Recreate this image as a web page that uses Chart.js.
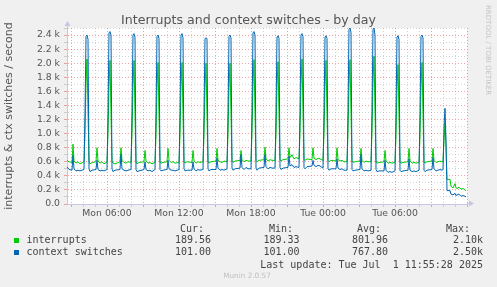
<!DOCTYPE html>
<html>
<head>
<meta charset="utf-8">
<script src="https://cdn.jsdelivr.net/npm/chart.js@4.4.1/dist/chart.umd.min.js"></script>
<style>
html,body{margin:0;padding:0;background:#f0f0f0;}
#wrap{position:relative;width:497px;height:287px;overflow:hidden;background:#f0f0f0;}
#c{position:absolute;left:0;top:0;}
.t{position:absolute;white-space:pre;line-height:1;}
.sans{font-family:"DejaVu Sans",sans-serif;}
.mono{font-family:"DejaVu Sans Mono",monospace;font-size:10px;color:#444;}
.r{text-align:right;}
.sq{position:absolute;width:5px;height:5px;}
</style>
</head>
<body>
<div id="wrap">
<canvas id="c" width="497" height="287"></canvas>
<div class="t sans" id="title" style="left:0;width:497px;text-align:center;top:13.6px;font-size:12.6px;color:#555;"></div>
<div class="t sans" id="rrd" style="left:483.5px;top:5px;font-size:7px;color:#c4c4c4;writing-mode:vertical-rl;"></div>
<div id="legend"></div>
<div class="t sans" id="munin" style="left:0;width:494px;text-align:center;top:272px;font-size:7.3px;color:#c0c0c0;"></div>
</div>
<script>
// ---- text ----
const chartTitle = 'Interrupts and context switches - by day';
const yAxisTitle = 'interrupts & ctx switches / second';
const sideText = 'RRDTOOL / TOBI OETIKER';
const footerText = 'Munin 2.0.57';
const lastUpdate = 'Last update: Tue Jul  1 11:55:28 2025';

// ---- x axis: sample index, 5-minute steps starting Mon 02:40 ----
const labelTicks = [40, 112, 184, 256, 328];
const timeLabels = ['Mon 06:00', 'Mon 12:00', 'Mon 18:00', 'Tue 00:00', 'Tue 06:00'];

// ---- legend ----
const seriesNames = ['interrupts', 'context switches'];
const seriesColors = ['#00cc00', '#0066b3'];
const statHeaders = ['Cur:', 'Min:', 'Avg:', 'Max:'];
const curValues = ['189.56', '101.00'];
const minValues = ['189.33', '101.00'];
const avgValues = ['801.96', '767.80'];
const maxValues = ['2.10k', '2.50k'];

// ---- data (sample index, values per second) ----
const sampleIdx = [
  0, 2, 5, 6, 7, 9, 11, 13, 17, 18, 19, 20, 21, 22,
  23, 25, 29, 30, 31, 33, 35, 37, 40, 41, 42, 43, 44, 45,
  46, 48, 53, 54, 55, 57, 59, 61, 64, 65, 66, 67, 68, 69,
  70, 72, 77, 78, 79, 81, 83, 85, 88, 89, 90, 91, 92, 93,
  94, 96, 100, 101, 102, 104, 106, 108, 112, 113, 114, 115, 116, 117,
  118, 120, 125, 126, 127, 129, 131, 133, 136, 137, 138, 139, 140, 141,
  142, 144, 149, 150, 151, 153, 155, 157, 160, 161, 162, 163, 164, 165,
  166, 168, 173, 174, 175, 177, 179, 181, 184, 185, 186, 187, 188, 189,
  190, 192, 197, 198, 199, 201, 203, 205, 208, 209, 210, 211, 212, 213,
  214, 216, 221, 222, 223, 225, 227, 229, 232, 233, 234, 235, 236, 237,
  238, 240, 245, 246, 247, 249, 251, 253, 256, 257, 258, 259, 260, 261,
  262, 264, 269, 270, 271, 273, 275, 277, 280, 281, 282, 283, 284, 285,
  286, 288, 293, 294, 295, 297, 299, 301, 304, 305, 306, 307, 308, 309,
  310, 312, 317, 318, 319, 321, 323, 325, 328, 329, 330, 331, 332, 333,
  334, 336, 341, 342, 343, 345, 347, 349, 352, 353, 354, 355, 356, 357,
  358, 360, 365, 366, 367, 369, 371, 373, 375, 376, 377, 378, 379, 380,
  381, 383, 384, 386, 388, 389, 390, 392, 394, 396, 398, 399
];
const interrupts = [
  620, 600, 590, 850, 610, 580, 600, 570, 600, 1000, 1700, 2060, 1300, 610,
  570, 590, 600, 800, 610, 580, 600, 570, 600, 1000, 1680, 2040, 1280, 610,
  580, 570, 600, 800, 620, 590, 580, 600, 590, 1000, 1680, 2040, 1280, 600,
  570, 590, 600, 760, 610, 580, 590, 570, 590, 980, 1650, 2010, 1260, 600,
  580, 590, 600, 790, 620, 590, 600, 580, 590, 980, 1660, 2010, 1270, 600,
  580, 600, 590, 760, 610, 580, 600, 590, 600, 980, 1650, 2000, 1260, 610,
  580, 600, 610, 790, 620, 600, 590, 610, 600, 980, 1650, 2000, 1260, 610,
  590, 610, 620, 760, 630, 600, 620, 610, 610, 1000, 1690, 2050, 1290, 620,
  600, 620, 630, 810, 640, 610, 630, 620, 620, 990, 1670, 2020, 1280, 630,
  610, 630, 640, 800, 660, 700, 640, 660, 640, 1000, 1700, 2060, 1300, 630,
  620, 640, 630, 800, 650, 630, 650, 640, 620, 1000, 1680, 2040, 1280, 620,
  600, 620, 610, 800, 630, 610, 620, 600, 600, 1000, 1690, 2050, 1290, 610,
  590, 600, 610, 790, 620, 590, 610, 600, 600, 1020, 1730, 2100, 1320, 610,
  580, 590, 600, 760, 610, 580, 590, 580, 590, 970, 1630, 1980, 1250, 600,
  580, 590, 600, 790, 610, 580, 590, 580, 590, 980, 1660, 2010, 1270, 600,
  580, 600, 610, 790, 620, 590, 600, 610, 600, 600, 900, 1150, 800, 350,
  350, 350, 250, 230, 290, 230, 220, 240, 210, 220, 200, 190
];
const contextSwitches = [
  530, 490, 480, 690, 500, 470, 480, 470, 490, 1300, 2380, 2400, 2340, 500,
  460, 480, 490, 620, 490, 470, 480, 470, 490, 1300, 2430, 2450, 2400, 500,
  460, 480, 490, 700, 500, 480, 470, 480, 490, 1300, 2400, 2420, 2370, 490,
  460, 470, 490, 600, 490, 470, 480, 460, 490, 1280, 2380, 2400, 2350, 490,
  470, 480, 490, 620, 500, 480, 480, 470, 490, 1300, 2400, 2420, 2360, 500,
  470, 480, 480, 600, 500, 470, 490, 480, 490, 1260, 2350, 2360, 2350, 500,
  470, 490, 490, 650, 510, 480, 490, 480, 500, 1280, 2380, 2400, 2360, 510,
  480, 500, 510, 700, 520, 490, 520, 500, 500, 1300, 2430, 2450, 2400, 510,
  480, 510, 520, 700, 530, 500, 520, 510, 510, 1280, 2370, 2390, 2350, 520,
  490, 510, 520, 680, 540, 560, 520, 530, 520, 1300, 2400, 2420, 2380, 520,
  500, 530, 540, 620, 550, 530, 550, 540, 510, 1280, 2370, 2390, 2350, 500,
  480, 500, 500, 640, 510, 490, 500, 480, 480, 1320, 2480, 2500, 2440, 490,
  470, 480, 490, 700, 500, 470, 480, 470, 480, 1320, 2480, 2500, 2400, 490,
  460, 470, 470, 620, 480, 450, 460, 450, 470, 1280, 2370, 2390, 2340, 480,
  460, 470, 480, 640, 480, 460, 470, 460, 480, 1280, 2380, 2400, 2360, 480,
  460, 480, 490, 660, 500, 470, 480, 490, 480, 490, 1100, 1360, 900, 190,
  190, 190, 140, 130, 150, 120, 130, 140, 110, 120, 110, 100
];

// ---- overlay text ----
document.getElementById('title').textContent = chartTitle;
document.getElementById('rrd').textContent = sideText;
document.getElementById('munin').textContent = footerText;

(function buildLegend(){
  const lg = document.getElementById('legend');
  const W = 497;
  const add = (html) => { lg.insertAdjacentHTML('beforeend', html); };
  const headerRight = [204, 293, 381, 470];
  const valueRight = [211, 299.5, 388, 483];
  const rowTop = [235, 247];
  const headTop = 224.3;
  statHeaders.forEach((h, i) => {
    add(`<div class="t mono r" style="right:${W - headerRight[i]}px;top:${headTop}px;">${h}</div>`);
  });
  const cols = [curValues, minValues, avgValues, maxValues];
  seriesNames.forEach((n, r) => {
    add(`<div class="sq" style="left:14px;top:${rowTop[r] + 3}px;background:${seriesColors[r]};"></div>`);
    add(`<div class="t mono" style="left:26.5px;top:${rowTop[r]}px;">${n}</div>`);
    cols.forEach((col, i) => {
      add(`<div class="t mono r" style="right:${W - valueRight[i]}px;top:${rowTop[r]}px;">${col[r]}</div>`);
    });
  });
  add(`<div class="t mono r" style="right:${W - 483}px;top:260.1px;">${lastUpdate}</div>`);
})();

// ---- chart ----
const hourTicks = Array.from({length: 34}, (_, k) => 4 + 12 * k);
const MAJOR = 'rgba(232,90,90,0.55)';
const MINOR = 'rgba(150,150,150,0.4)';
const AXIS = '#c6c6e6';

const plotBg = {
  id: 'plotBg',
  beforeDraw(chart) {
    const {ctx, chartArea: a} = chart;
    ctx.save();
    ctx.fillStyle = '#ffffff';
    ctx.fillRect(a.left, a.top, a.right - a.left, a.bottom - a.top);
    ctx.restore();
  }
};
const arrows = {
  id: 'arrows',
  afterDraw(chart) {
    const {ctx, chartArea: a} = chart;
    ctx.save();
    ctx.strokeStyle = AXIS;
    ctx.fillStyle = AXIS;
    ctx.lineWidth = 1;
    const x = Math.round(a.left) + 0.5;
    ctx.beginPath(); ctx.moveTo(x, a.top); ctx.lineTo(x, a.top - 4); ctx.stroke();
    ctx.beginPath(); ctx.moveTo(x - 3, a.top - 2); ctx.lineTo(x + 3, a.top - 2); ctx.lineTo(x, a.top - 7); ctx.closePath(); ctx.fill();
    const y = Math.round(a.bottom) - 0.5;
    ctx.beginPath(); ctx.moveTo(a.right, y); ctx.lineTo(a.right + 3, y); ctx.stroke();
    ctx.beginPath(); ctx.moveTo(a.right + 2, y - 3); ctx.lineTo(a.right + 2, y + 3); ctx.lineTo(a.right + 7, y); ctx.closePath(); ctx.fill();
    ctx.restore();
  }
};

const toPoints = (vals) => vals.map((v, i) => ({x: sampleIdx[i], y: v}));

new Chart(document.getElementById('c'), {
  type: 'line',
  data: {
    datasets: [
      {label: seriesNames[0], data: toPoints(interrupts), borderColor: seriesColors[0], order: 2},
      {label: seriesNames[1], data: toPoints(contextSwitches), borderColor: seriesColors[1], order: 1}
    ]
  },
  options: {
    responsive: false,
    animation: false,
    devicePixelRatio: 1,
    layout: {padding: {left: 0, right: 30, top: 28, bottom: 0}},
    elements: {
      line: {borderWidth: 1, tension: 0, fill: false},
      point: {radius: 0, hoverRadius: 0}
    },
    plugins: {legend: {display: false}, tooltip: {enabled: false}, title: {display: false}},
    scales: {
      x: {
        type: 'linear', min: 0, max: 400,
        afterBuildTicks: (s) => { s.ticks = hourTicks.map(v => ({value: v})); },
        afterFit: (s) => { s.height = 83; },
        ticks: {
          autoSkip: false, maxRotation: 0, minRotation: 0, padding: 1,
          color: '#555', font: {family: 'DejaVu Sans', size: 9.3},
          callback: (v) => { const i = labelTicks.indexOf(v); return i >= 0 ? timeLabels[i] : ''; }
        },
        grid: {
          color: (c) => ((c.tick.value - 4) % 36 === 0 ? MAJOR : MINOR),
          tickColor: (c) => ((c.tick.value - 4) % 36 === 0 ? MAJOR : MINOR),
          tickLength: 3, lineWidth: 1
        },
        border: {display: true, color: AXIS, dash: [1, 2]}
      },
      y: {
        type: 'linear', min: 0, max: 2500,
        afterFit: (s) => { s.width = 67; },
        ticks: {
          stepSize: 100, autoSkip: false, padding: 4,
          color: '#555', font: {family: 'DejaVu Sans', size: 9.3},
          callback: (v) => (v % 200 === 0 ? (v === 0 ? '0.0' : (v / 1000).toFixed(1) + ' k') : '')
        },
        grid: {
          color: (c) => (c.tick.value % 200 === 0 ? MAJOR : MINOR),
          tickColor: (c) => (c.tick.value % 200 === 0 ? MAJOR : MINOR),
          tickLength: 3, lineWidth: 1
        },
        border: {display: true, color: AXIS, dash: [1, 2]},
        title: {
          display: true, text: yAxisTitle, color: '#555',
          font: {family: 'DejaVu Sans', size: 11}, padding: {top: 3, bottom: 0}
        }
      }
    }
  },
  plugins: [plotBg, arrows]
});
</script>
</body>
</html>
